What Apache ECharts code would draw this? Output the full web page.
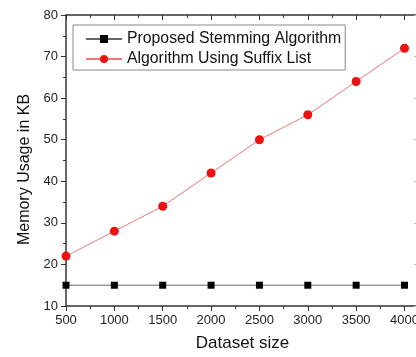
<!DOCTYPE html>
<html><head><meta charset="utf-8">
<script src="https://cdn.jsdelivr.net/npm/echarts@6/dist/echarts.min.js"></script>
<style>html,body{margin:0;padding:0;background:#fff;overflow:hidden}#c{width:426px;height:357px}</style>
</head><body><div id="c"></div>
<script>
const datasetSizes = [500, 1000, 1500, 2000, 2500, 3000, 3500, 4000];
const proposedStemming = [15, 15, 15, 15, 15, 15, 15, 15];
const suffixList = [22, 28, 34, 42, 50, 56, 64, 72];
const seriesNames = ['Proposed Stemming Algorithm', 'Algorithm Using Suffix List'];
const xTitle = 'Dataset size';
const yTitle = 'Memory Usage in KB';

const font = 'Arial, "Liberation Sans", sans-serif';
const axisCol = '#333';
const chart = echarts.init(document.getElementById('c'), null, {renderer: 'canvas'});
const pairs = arr => datasetSizes.map((x, i) => [x, arr[i]]);
chart.setOption({
  animation: false,
  backgroundColor: '#fff',
  grid: {left: 66, top: 15, bottom: 47, right: 7, containLabel: false},
  legend: {
    orient: 'vertical', left: 73, top: 25,
    borderColor: '#888', borderWidth: 1, padding: [6, 4, 3, 12],
    itemWidth: 36, itemHeight: 10, itemGap: 4,
    textStyle: {fontFamily: font, fontSize: 15.8, color: '#111'},
    data: seriesNames
  },
  xAxis: [{
    type: 'value', min: 500, max: 4150, interval: 500, position: 'bottom',
    name: xTitle, nameLocation: 'middle', nameGap: 29,
    nameTextStyle: {fontFamily: font, fontSize: 17, color: '#111'},
    axisLine: {lineStyle: {color: axisCol, width: 1.5}},
    axisTick: {inside: false, length: 5, lineStyle: {color: axisCol}},
    minorTick: {show: true, splitNumber: 2, length: 3, lineStyle: {color: axisCol}},
    axisLabel: {fontFamily: font, fontSize: 13, color: '#222', margin: 8,
      showMaxLabel: false, formatter: v => String(v)},
    splitLine: {show: false}
  }, {
    type: 'value', min: 500, max: 4150, interval: 500, position: 'top',
    axisLine: {lineStyle: {color: axisCol, width: 1.5}},
    axisTick: {inside: true, length: 5, lineStyle: {color: axisCol}},
    minorTick: {show: true, splitNumber: 2, length: 3, lineStyle: {color: axisCol}},
    axisLabel: {show: false}, splitLine: {show: false}
  }],
  yAxis: [{
    type: 'value', min: 10, max: 80, interval: 10, position: 'left',
    name: yTitle, nameLocation: 'middle', nameGap: 33, nameRotate: 90,
    nameTextStyle: {fontFamily: font, fontSize: 16, color: '#111', padding: [0, 18, 0, 0]},
    axisLine: {lineStyle: {color: axisCol, width: 1.5}},
    axisTick: {inside: false, length: 5, lineStyle: {color: axisCol}},
    minorTick: {show: true, splitNumber: 2, length: 3, lineStyle: {color: axisCol}},
    axisLabel: {fontFamily: font, fontSize: 13, color: '#222', margin: 8},
    splitLine: {show: false}
  }, {
    type: 'value', min: 10, max: 80, interval: 10, position: 'right',
    axisLine: {lineStyle: {color: axisCol, width: 1.5}},
    axisTick: {inside: true, length: 5, lineStyle: {color: '#bbb'}},
    minorTick: {show: true, splitNumber: 2, length: 3, lineStyle: {color: '#bbb'}},
    axisLabel: {show: false}, splitLine: {show: false}
  }],
  series: [{
    name: seriesNames[0], type: 'line', data: pairs(proposedStemming),
    symbol: 'rect', symbolSize: 7,
    itemStyle: {color: '#000'},
    lineStyle: {color: '#666', width: 1}
  }, {
    name: seriesNames[1], type: 'line', data: pairs(suffixList),
    symbol: 'circle', symbolSize: 9,
    itemStyle: {color: '#ee1111'},
    lineStyle: {color: '#ee7777', width: 1}
  }]
});
</script></body></html>
